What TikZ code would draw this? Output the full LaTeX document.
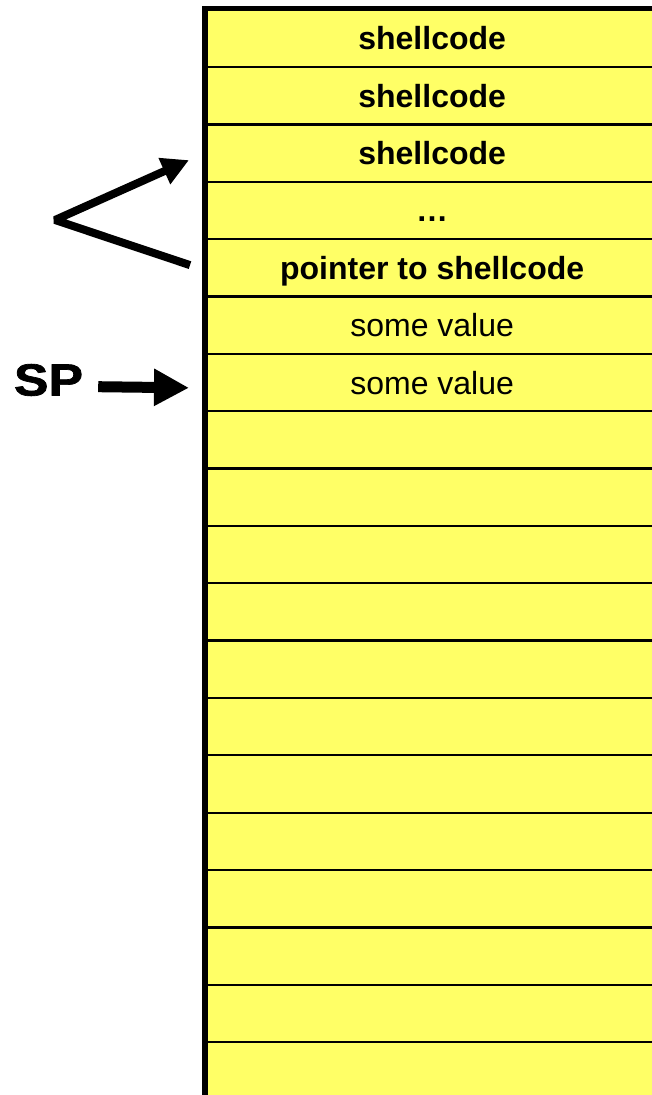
\documentclass[tikz,border=0pt]{standalone}
\usepackage{fontspec}
\setmainfont{Liberation Sans}
\newfontfamily\labelfont{Liberation Sans}[BoldFeatures={FakeBold=1.5}]
\usetikzlibrary{arrows.meta}
\definecolor{stackyellow}{HTML}{FFFF66}
\begin{document}
\begin{tikzpicture}[x=1pt,y=-1pt,
  cell/.style={draw=black, line width=2.3pt, fill=stackyellow,
    minimum width=452pt, minimum height=57.35pt, inner sep=0pt,
    text height=23pt, text depth=0pt, anchor=north west,
    font=\fontsize{32pt}{38pt}\selectfont},
  boldcell/.style={cell, font=\fontsize{32pt}{38pt}\selectfont\bfseries},
  vline/.style={line width=8pt, line join=bevel},
  sparrow/.style={line width=11pt, -{Triangle[length=35pt,width=35pt]}},
]
\useasboundingbox (0,0) rectangle (652,1095);

% the stack, cut off at the right and bottom edges
\begin{scope}
  \clip (0,0) rectangle (652,1095);
  \node[boldcell] (r0) at (205,8.6)    {shellcode};
  \node[boldcell] (r1) at (205,65.95)  {shellcode};
  \node[boldcell] (r2) at (205,123.3)  {shellcode};
  \node[boldcell] (r3) at (205,180.65) {…};
  \node[boldcell] (r4) at (205,238.0)  {pointer to shellcode};
  \node[cell]     (r5) at (205,295.35) {some value};
  \node[cell]     (r6) at (205,352.7)  {some value};
  \foreach \k in {7,...,18}
    \node[cell] (r\k) at (205,{8.6+57.35*\k}) {};
  % heavy outer edges of the stack
  \draw[line width=5pt] (202,8.5) -- (660,8.5);
  \draw[line width=6pt] (205,6) -- (205,1100);
\end{scope}

% pointer from the return slot back into the shellcode
\coordinate (vtx) at (55,220);
\draw[vline, -{Triangle[length=27pt,width=27pt]}]
  ([xshift=-15pt,yshift=2.7pt]r4.west) -- (vtx) -- ([xshift=-16pt,yshift=-7pt]r2.west);

% stack pointer
\node[font=\fontsize{45pt}{50pt}\labelfont\bfseries, inner sep=0pt] (sp)
  at (48.5,380) {\scalebox{1.15}[1]{SP}};
\draw[sparrow] ([xshift=15pt,yshift=-6.7pt]sp.east) -- ([xshift=-16pt,yshift=-5.3pt]r6.west);
\end{tikzpicture}
\end{document}
